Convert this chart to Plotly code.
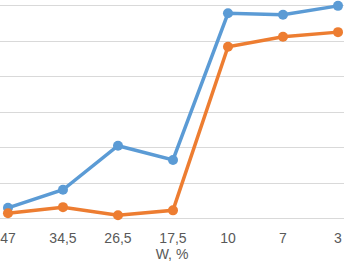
import plotly.graph_objects as go

categories = ["47", "34,5", "26,5", "17,5", "10", "7", "3"]
series_blue = [3.0, 8.1, 20.5, 16.5, 57.8, 57.4, 59.9]
series_orange = [1.5, 3.2, 0.9, 2.3, 48.4, 51.2, 52.5]
x_title = "W, %"

fig = go.Figure()
fig.add_trace(go.Scatter(x=categories, y=series_blue, mode="lines+markers",
                         line=dict(color="#5B9BD5", width=3.5),
                         marker=dict(color="#5B9BD5", size=10), cliponaxis=False))
fig.add_trace(go.Scatter(x=categories, y=series_orange, mode="lines+markers",
                         line=dict(color="#ED7D31", width=3.5),
                         marker=dict(color="#ED7D31", size=10), cliponaxis=False))

fig.update_layout(
    width=344, height=266,
    margin=dict(l=0, r=0, t=0, b=46),
    paper_bgcolor="white", plot_bgcolor="white",
    showlegend=False,
    font=dict(family="Liberation Sans, Arial, sans-serif", size=14, color="#595959"),
    xaxis=dict(type="category", range=[-0.145, 6.109], showgrid=False, zeroline=False,
               showline=False, ticks="", automargin=False, ticklabelstandoff=8,
               tickfont=dict(size=14, color="#595959"),
               title=dict(text=x_title, font=dict(size=14, color="#595959"), standoff=4)),
    yaxis=dict(range=[-0.42, 61.55], dtick=10, showgrid=True, gridcolor="#D9D9D9",
               gridwidth=1, zeroline=True, zerolinecolor="#D9D9D9", zerolinewidth=1,
               showticklabels=False, ticks="", automargin=False),
)

fig.write_html("out.html", config={"displayModeBar": False},
               post_script="document.body.style.margin='0';document.body.style.overflow='hidden';")
